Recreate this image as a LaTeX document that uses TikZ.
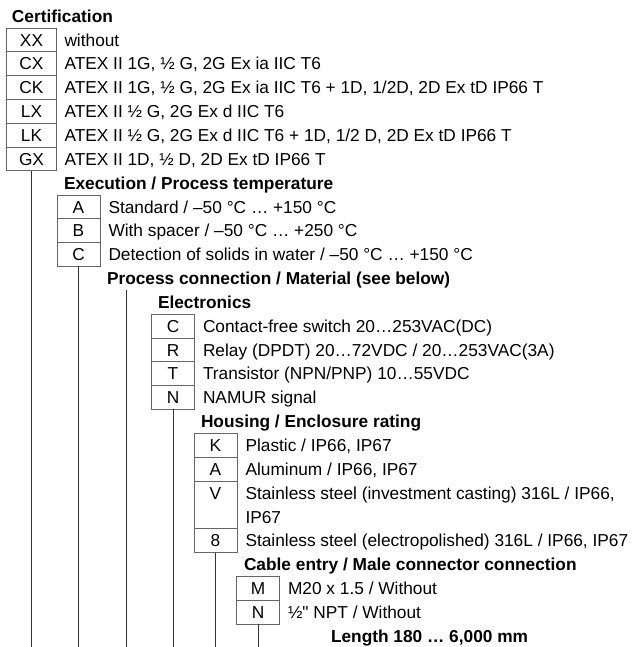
\documentclass[tikz,border=0pt]{standalone}
\usepackage{fontspec}
\setmainfont{Liberation Sans}[Ligatures=TeXOff]
\usetikzlibrary{positioning}

\begin{document}
\begin{tikzpicture}[
    x=1pt, y=-1pt,
    every node/.style = {inner sep=0pt, outer sep=0pt, text height=18.1pt, text depth=5.7pt, font=\fontsize{17.3}{23.85}\selectfont},
    box/.style = {rectangle, draw=black!60, line width=0.8pt, minimum width=43pt, align=center},
    wide/.style = {box, minimum width=50pt},
    tall/.style = {text depth=29.55pt},
    item/.style = {anchor=west, align=left},
    twoline/.style = {text height=41.95pt, text depth=5.7pt},
    head/.style = {anchor=west, font=\fontsize{17.3}{23.85}\selectfont\bfseries},
    link/.style = {draw=black!80, line width=0.8pt}
]
\useasboundingbox (0,0) rectangle (642,647);
\coordinate (bottom) at (0,647);

% Certification
\node[head] (certh) at (12,16.1) {Certification};
\node[wide, anchor=north west] (xx) at (6.5,28.05) {XX};
\node[wide, below=0pt of xx] (cx) {CX};
\node[wide, below=0pt of cx] (ck) {CK};
\node[wide, below=0pt of ck] (lx) {LX};
\node[wide, below=0pt of lx] (lk) {LK};
\node[wide, below=0pt of lk] (gx) {GX};
\node[item, right=8pt of xx] (txx) {without};
\node[item, right=8pt of cx] (tcx) {ATEX II 1G, ½ G, 2G Ex ia IIC T6};
\node[item, right=8pt of ck] (tck) {ATEX II 1G, ½ G, 2G Ex ia IIC T6 + 1D, 1/2D, 2D Ex tD IP66 T};
\node[item, right=8pt of lx] (tlx) {ATEX II ½ G, 2G Ex d IIC T6};
\node[item, right=8pt of lk] (tlk) {ATEX II ½ G, 2G Ex d IIC T6 + 1D, 1/2 D, 2D Ex tD IP66 T};
\node[item, right=8pt of gx] (tgx) {ATEX II 1D, ½ D, 2D Ex tD IP66 T};

% Execution
\node[head] (exech) at (64,183.1) {Execution / Process temperature};
\node[box, anchor=north west] (ea) at (57,195) {A};
\node[box, below=0pt of ea] (eb) {B};
\node[box, below=0pt of eb] (ec) {C};
\node[item, right=8.5pt of ea] (tea) {Standard / –50 °C … +150 °C};
\node[item, right=8.5pt of eb] (teb) {With spacer / –50 °C … +250 °C};
\node[item, right=8.5pt of ec] (tec) {Detection of solids in water / –50 °C … +150 °C};

% Process connection
\node[head] (proch) at (107,278.5) {Process connection / Material (see below)};
\coordinate (proc) at (126,290.4);

% Electronics
\node[head] (elech) at (158,302.3) {Electronics};
\node[box, anchor=north west] (elc) at (151.5,314.25) {C};
\node[box, below=0pt of elc] (elr) {R};
\node[box, below=0pt of elr] (elt) {T};
\node[box, below=0pt of elt] (eln) {N};
\node[item, right=8.5pt of elc] (telc) {Contact-free switch 20…253VAC(DC)};
\node[item, right=8.5pt of elr] (telr) {Relay (DPDT) 20…72VDC / 20…253VAC(3A)};
\node[item, right=8.5pt of elt] (telt) {Transistor (NPN/PNP) 10…55VDC};
\node[item, right=8.5pt of eln] (teln) {NAMUR signal};

% Housing
\node[head] (househ) at (201,421.6) {Housing / Enclosure rating};
\node[box, anchor=north west] (hk) at (194,433.5) {K};
\node[box, below=0pt of hk] (ha) {A};
\node[box, tall, below=0pt of ha] (hv) {V};
\node[box, below=0pt of hv] (h8) {8};
\node[item, right=8.5pt of hk] (thk) {Plastic / IP66, IP67};
\node[item, right=8.5pt of ha] (tha) {Aluminum / IP66, IP67};
\node[item, twoline, right=8.5pt of hv] (thv) {Stainless steel (investment casting) 316L / IP66,\\IP67};
\node[item, right=8.5pt of h8] (th8) {Stainless steel (electropolished) 316L / IP66, IP67};

% Cable entry
\node[head] (cableh) at (244,564.7) {Cable entry / Male connector connection};
\node[box, anchor=north west] (cm) at (236.5,576.6) {M};
\node[box, below=0pt of cm] (cn) {N};
\node[item, right=8.5pt of cm] (tcm) {M20 x 1.5 / Without};
\node[item, right=8.5pt of cn] (tcn) {½" NPT / Without};

% Length
\node[head] (lengthh) at (331,636.2) {Length 180 … 6,000 mm};

% lines down to the bottom
\draw[link] (gx.south) -- (gx.south |- bottom);
\draw[link] (ec.south) -- (ec.south |- bottom);
\draw[link] (proc) -- (proc |- bottom);
\draw[link] (eln.south) -- (eln.south |- bottom);
\draw[link] (h8.south) -- (h8.south |- bottom);
\draw[link] (cn.south) -- (cn.south |- bottom);
\end{tikzpicture}
\end{document}
